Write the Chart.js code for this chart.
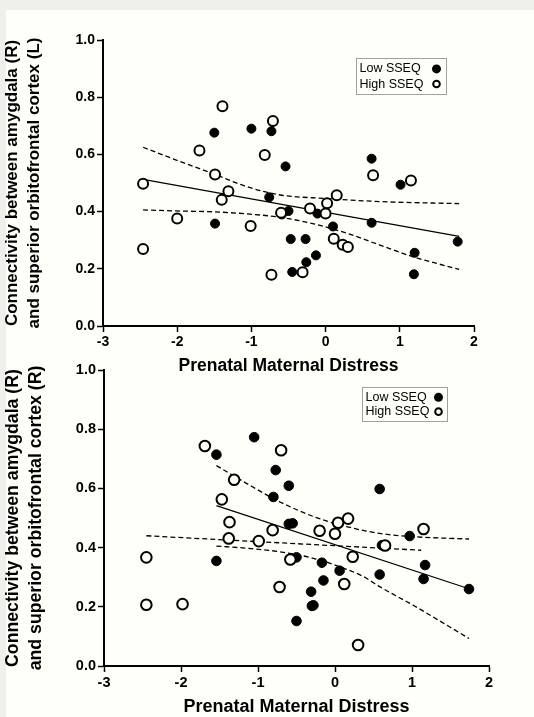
<!DOCTYPE html>
<html>
<head>
<meta charset="utf-8">
<script src="https://cdn.jsdelivr.net/npm/chart.js@4.4.1/dist/chart.umd.min.js"></script>
<style>
  html, body { margin: 0; padding: 0; }
  body { width: 534px; height: 717px; background: #efefec; position: relative; overflow: hidden; }
  #panel { position: absolute; left: 6px; top: 10px; right: 0; bottom: 0; background: #fffffa; }
  .wrap { position: absolute; left: 0; width: 534px; }
  #top { top: 0; height: 380px; }
  #bottom { top: 350px; height: 367px; }
</style>
</head>
<body>
<div id="panel"></div>
<div class="wrap" id="top"><canvas id="chartTop"></canvas></div>
<div class="wrap" id="bottom"><canvas id="chartBottom"></canvas></div>
<script>
// top panel: amygdala (R) - superior orbitofrontal cortex (L)
let topLowX  = [-1.50, -1.00, -0.73, -0.54, -0.76, -1.49, -0.59, -0.50, -0.11, -0.47, -0.27, -0.45, -0.26, -0.13, 0.10, 0.62, 0.62, 1.01, 1.20, 1.19, 1.78];
let topLowY  = [0.676, 0.690, 0.681, 0.558, 0.450, 0.358, 0.390, 0.402, 0.393, 0.304, 0.304, 0.189, 0.223, 0.247, 0.348, 0.585, 0.361, 0.494, 0.256, 0.181, 0.295];
let topHighX = [-2.46, -2.46, -2.00, -1.70, -1.39, -1.49, -1.31, -1.40, -1.01, -0.82, -0.71, -0.73, -0.60, -0.31, -0.21, 0.02, 0.00, 0.15, 0.11, 0.23, 0.30, 0.64, 1.15];
let topHighY = [0.497, 0.269, 0.376, 0.614, 0.768, 0.530, 0.471, 0.441, 0.350, 0.598, 0.717, 0.179, 0.396, 0.188, 0.411, 0.429, 0.393, 0.457, 0.305, 0.284, 0.276, 0.527, 0.509];
let topFitX = [-2.46, 1.80];
let topFitY = [0.513, 0.313];
let topUpperX = [-2.46, -1.96, -1.49, -1.06, -0.61, 0.00, 0.73, 1.80];
let topUpperY = [0.625, 0.575, 0.530, 0.487, 0.458, 0.446, 0.435, 0.428];
let topLowerX = [-2.46, -1.96, -1.49, -1.06, -0.61, -0.16, 0.29, 0.73, 1.18, 1.80];
let topLowerY = [0.406, 0.402, 0.399, 0.392, 0.380, 0.357, 0.324, 0.283, 0.242, 0.198];

// bottom panel: amygdala (R) - superior orbitofrontal cortex (R)
let botLowX  = [-1.54, -1.54, -1.05, -0.77, -0.60, -0.80, -0.60, -0.55, -0.50, -0.50, -0.17, -0.15, -0.31, -0.30, -0.28, 0.06, 0.58, 0.61, 0.58, 0.97, 1.17, 1.15, 1.74];
let botLowY  = [0.714, 0.355, 0.773, 0.662, 0.609, 0.571, 0.480, 0.482, 0.367, 0.152, 0.349, 0.289, 0.251, 0.203, 0.205, 0.322, 0.598, 0.408, 0.309, 0.439, 0.341, 0.294, 0.260];
let botHighX = [-2.45, -2.45, -1.98, -1.69, -1.31, -1.47, -1.37, -1.38, -0.99, -0.81, -0.70, -0.72, -0.58, -0.20, 0.00, 0.04, 0.17, 0.23, 0.12, 0.30, 0.65, 1.15];
let botHighY = [0.367, 0.207, 0.209, 0.743, 0.629, 0.563, 0.486, 0.431, 0.422, 0.459, 0.729, 0.267, 0.360, 0.457, 0.447, 0.484, 0.498, 0.369, 0.277, 0.071, 0.407, 0.463];
let botFitX = [-1.54, 1.74];
let botFitY = [0.542, 0.261];
let botUpperX = [-1.54, -1.15, -0.72, -0.28, 0.15, 0.58, 1.01, 1.74];
let botUpperY = [0.677, 0.617, 0.555, 0.505, 0.471, 0.448, 0.437, 0.429];
let botLowerX = [-1.54, -1.15, -0.72, -0.28, 0.00, 0.37, 0.58, 1.01, 1.74];
let botLowerY = [0.405, 0.398, 0.386, 0.364, 0.341, 0.302, 0.268, 0.206, 0.093];
let botRefX = [-2.45, 1.12];
let botRefY = [0.440, 0.391];

let xTicks = [-3, -2, -1, 0, 1, 2];
let yTicks = [0.0, 0.2, 0.4, 0.6, 0.8, 1.0];
let legendLabels = ['Low SSEQ', 'High SSEQ'];

const BG = '#fffffa';
Chart.defaults.font.family = "'Liberation Sans', Arial, sans-serif";
Chart.defaults.color = '#000';

function pts(xs, ys) {
  return xs.map((x, i) => ({ x: x, y: ys[i] }));
}

// boxed legend drawn inside the plot, text left and marker right
const boxLegend = {
  id: 'boxLegend',
  afterDatasetsDraw(chart, args, o) {
    const ctx = chart.ctx;
    const sx = chart.scales.x, sy = chart.scales.y;
    const l = Math.round(sx.getPixelForValue(o.x0)) + 0.5;
    const r = Math.round(sx.getPixelForValue(o.x1)) + 0.5;
    const t = Math.round(sy.getPixelForValue(o.y0)) + 0.5;
    const b = Math.round(sy.getPixelForValue(o.y1)) + 0.5;
    const h = b - t;
    ctx.save();
    ctx.fillStyle = BG;
    ctx.fillRect(l, t, r - l, h);
    ctx.strokeStyle = '#a0a0a0';
    ctx.lineWidth = 1;
    ctx.strokeRect(l, t, r - l, h);
    ctx.font = o.fontSize + "px 'Liberation Sans', Arial, sans-serif";
    ctx.fillStyle = '#000';
    ctx.textBaseline = 'middle';
    const rows = [t + h * 0.29, t + h * 0.71];
    legendLabels.forEach((txt, i) => {
      ctx.fillText(txt, l + 3, rows[i]);
    });
    const mx = r - o.markerInset;
    ctx.beginPath();
    ctx.arc(mx, rows[0], 4.5, 0, Math.PI * 2);
    ctx.fillStyle = '#000';
    ctx.fill();
    ctx.beginPath();
    ctx.arc(mx, rows[1], 3.3, 0, Math.PI * 2);
    ctx.fillStyle = BG;
    ctx.fill();
    ctx.lineWidth = 2;
    ctx.strokeStyle = '#000';
    ctx.stroke();
    ctx.restore();
  }
};

function makeChart(id, d) {
  const lineSets = [
    { data: pts(d.fitX, d.fitY), borderColor: '#000', borderWidth: 1.3, borderDash: [] },
    { data: pts(d.upX, d.upY), borderColor: '#000', borderWidth: 1.3, borderDash: [5, 3], cubicInterpolationMode: 'monotone' },
    { data: pts(d.loX, d.loY), borderColor: '#000', borderWidth: 1.3, borderDash: [5, 3], cubicInterpolationMode: 'monotone' }
  ];
  if (d.refX) {
    lineSets.push({ data: pts(d.refX, d.refY), borderColor: '#000', borderWidth: 1.3, borderDash: [5, 3] });
  }
  lineSets.forEach(s => { s.showLine = true; s.pointRadius = 0; s.fill = false; });

  return new Chart(id, {
    type: 'scatter',
    data: {
      datasets: [
        { label: legendLabels[1], data: pts(d.highX, d.highY), pointRadius: d.r, pointBorderWidth: 2,
          pointBackgroundColor: BG, pointBorderColor: '#000' },
        { label: legendLabels[0], data: pts(d.lowX, d.lowY), pointRadius: d.r - 0.5, pointBorderWidth: 1,
          pointBackgroundColor: '#000', pointBorderColor: '#000' }
      ].concat(lineSets)
    },
    options: {
      responsive: true,
      maintainAspectRatio: false,
      animation: false,
      layout: { padding: d.pad },
      plugins: {
        legend: { display: false },
        tooltip: { enabled: false },
        boxLegend: d.legend
      },
      scales: {
        x: {
          type: 'linear', min: -3, max: 2,
          afterBuildTicks: s => { s.ticks = xTicks.map(v => ({ value: v })); },
          afterFit: s => { s.height = d.xH; },
          ticks: { font: { size: d.tick, weight: 'bold' }, padding: 2, callback: v => String(v) },
          grid: { drawOnChartArea: false, tickLength: 6, tickWidth: 1.5, tickColor: '#000' },
          border: { color: '#000', width: 2 },
          title: { display: true, text: 'Prenatal Maternal Distress',
            font: { size: d.xTitle, weight: 'bold', lineHeight: 1 }, padding: { top: 0, bottom: d.xTitlePad } }
        },
        y: {
          min: 0, max: 1,
          afterBuildTicks: s => { s.ticks = yTicks.map(v => ({ value: v })); },
          afterFit: s => { s.width = d.yW; },
          ticks: { font: { size: d.tick, weight: 'bold' }, padding: 2, callback: v => v.toFixed(1) },
          grid: { drawOnChartArea: false, tickLength: 6, tickWidth: 1.5, tickColor: '#000' },
          border: { color: '#000', width: 2 },
          title: { display: true, text: d.yTitle,
            font: { size: d.yTitleSize, weight: 'bold', lineHeight: 1.27 }, padding: { top: 2, bottom: 0 } }
        }
      }
    },
    plugins: [boxLegend]
  });
}

makeChart('chartTop', {
  lowX: topLowX, lowY: topLowY, highX: topHighX, highY: topHighY,
  fitX: topFitX, fitY: topFitY, upX: topUpperX, upY: topUpperY, loX: topLowerX, loY: topLowerY,
  r: 5, pad: { left: 0, right: 60, top: 40, bottom: 0 }, xH: 54, yW: 103,
  tick: 14, xTitle: 17.5, xTitlePad: 5, yTitleSize: 17,
  yTitle: ['Connectivity between amygdala (R)', 'and superior orbitofrontal cortex (L)'],
  legend: { x0: 0.405, x1: 1.616, y0: 0.937, y1: 0.811, fontSize: 12.5, markerInset: 10 }
});

makeChart('chartBottom', {
  lowX: botLowX, lowY: botLowY, highX: botHighX, highY: botHighY,
  fitX: botFitX, fitY: botFitY, upX: botUpperX, upY: botUpperY, loX: botLowerX, loY: botLowerY,
  refX: botRefX, refY: botRefY,
  r: 5.3, pad: { left: 0, right: 45, top: 20, bottom: 0 }, xH: 51, yW: 104,
  tick: 14.5, xTitle: 18, xTitlePad: 1, yTitleSize: 17.7,
  yTitle: ['Connectivity between amygdala (R)', 'and superior orbitofrontal cortex (R)'],
  legend: { x0: 0.351, x1: 1.455, y0: 0.943, y1: 0.828, fontSize: 12.5, markerInset: 9 }
});
</script>
</body>
</html>
